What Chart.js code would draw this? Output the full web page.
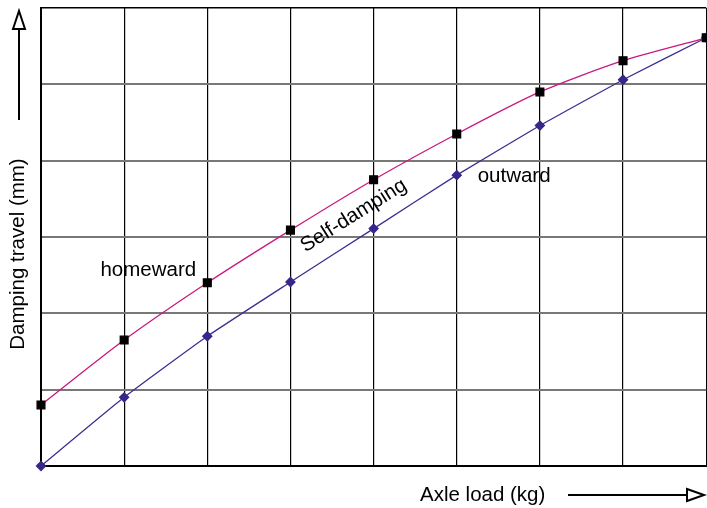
<!DOCTYPE html>
<html>
<head>
<meta charset="utf-8">
<script src="https://cdn.jsdelivr.net/npm/chart.js@4"></script>
<style>
  html, body { margin: 0; padding: 0; background: #fff; overflow: hidden; }
  #wrap { width: 713px; height: 508px; }
</style>
</head>
<body>
<div id="wrap"><canvas id="c" width="713" height="508"></canvas></div>
<script>
// grid units: 8 load steps, 6 travel steps (no tick labels in the original)
const loads     = [0, 1, 2, 3, 4, 5, 6, 7, 8];
const homeward  = [0.80, 1.65, 2.40, 3.09, 3.75, 4.35, 4.90, 5.31, 5.61];
const outward   = [0.00, 0.90, 1.70, 2.41, 3.11, 3.81, 4.46, 5.06, 5.61];
const xTitle = "Axle load (kg)";
const yTitle = "Damping travel (mm)";
const notes = [
  { text: "homeward",     x: 1.29, y: 2.56, rot: 0 },
  { text: "Self-damping", x: 3.76, y: 3.28, rot: -32 },
  { text: "outward",      x: 5.69, y: 3.80, rot: 0 }
];

const FONT = "20.5px 'Liberation Sans', Arial, sans-serif";

// axis titles with open-head arrows + in-plot labels
const decor = {
  id: "decor",
  afterDraw(chart) {
    const { ctx, scales: { x, y }, chartArea: a } = chart;
    ctx.save();
    ctx.fillStyle = "#000";
    ctx.strokeStyle = "#000";
    ctx.font = FONT;
    ctx.textBaseline = "middle";

    // labels on the plot
    notes.forEach(n => {
      ctx.save();
      ctx.translate(x.getPixelForValue(n.x), y.getPixelForValue(n.y));
      ctx.rotate(n.rot * Math.PI / 180);
      ctx.textAlign = "center";
      ctx.fillText(n.text, 0, 0);
      ctx.restore();
    });

    // x title + arrow
    const ty = a.bottom + 29;
    ctx.textAlign = "left";
    ctx.fillText(xTitle, 420, ty);
    ctx.lineWidth = 2;
    ctx.beginPath(); ctx.moveTo(568, ty); ctx.lineTo(688, ty); ctx.stroke();
    ctx.beginPath();
    ctx.moveTo(687, ty - 6); ctx.lineTo(704, ty); ctx.lineTo(687, ty + 6); ctx.closePath();
    ctx.stroke();

    // y title + arrow
    ctx.save();
    ctx.translate(18, 254);
    ctx.rotate(-Math.PI / 2);
    ctx.textAlign = "center";
    ctx.fillText(yTitle, 0, 0);
    ctx.restore();
    ctx.beginPath(); ctx.moveTo(19, 120); ctx.lineTo(19, 29); ctx.stroke();
    ctx.beginPath();
    ctx.moveTo(13, 29); ctx.lineTo(19, 11); ctx.lineTo(25, 29); ctx.closePath();
    ctx.stroke();
    ctx.restore();
  }
};

new Chart(document.getElementById("c"), {
  type: "line",
  data: {
    labels: loads,
    datasets: [
      {
        label: "homeward",
        data: loads.map((l, i) => ({ x: l, y: homeward[i] })),
        borderColor: "#c8197f", borderWidth: 1.3,
        pointStyle: "rect", pointRadius: 5.5,
        pointBackgroundColor: "#000", pointBorderColor: "#000",
        tension: 0.25, clip: false
      },
      {
        label: "outward",
        data: loads.map((l, i) => ({ x: l, y: outward[i] })),
        borderColor: "#3b2f8f", borderWidth: 1.3,
        pointStyle: "rectRot", pointRadius: 4.5,
        pointBackgroundColor: "#35288a", pointBorderColor: "#35288a",
        tension: 0.15, clip: false
      }
    ]
  },
  options: {
    responsive: false,
    animation: false,
    layout: { padding: { left: 41, top: 8, right: 0, bottom: 42 } },
    plugins: { legend: { display: false }, tooltip: { enabled: false } },
    scales: {
      x: {
        type: "linear", min: 0, max: 8,
        ticks: { display: false, stepSize: 1 },
        grid: { color: "#000", lineWidth: 1.2, drawTicks: false },
        border: { color: "#000", width: 2 }
      },
      y: {
        min: 0, max: 6,
        ticks: { display: false, stepSize: 1 },
        grid: {
          drawTicks: false,
          color: c => (c.index === 0 || c.index === 6) ? "#000" : "#787878",
          lineWidth: c => (c.index === 0 || c.index === 6) ? 1.5 : 2
        },
        border: { color: "#000", width: 2 }
      }
    }
  },
  plugins: [decor]
});
</script>
</body>
</html>
